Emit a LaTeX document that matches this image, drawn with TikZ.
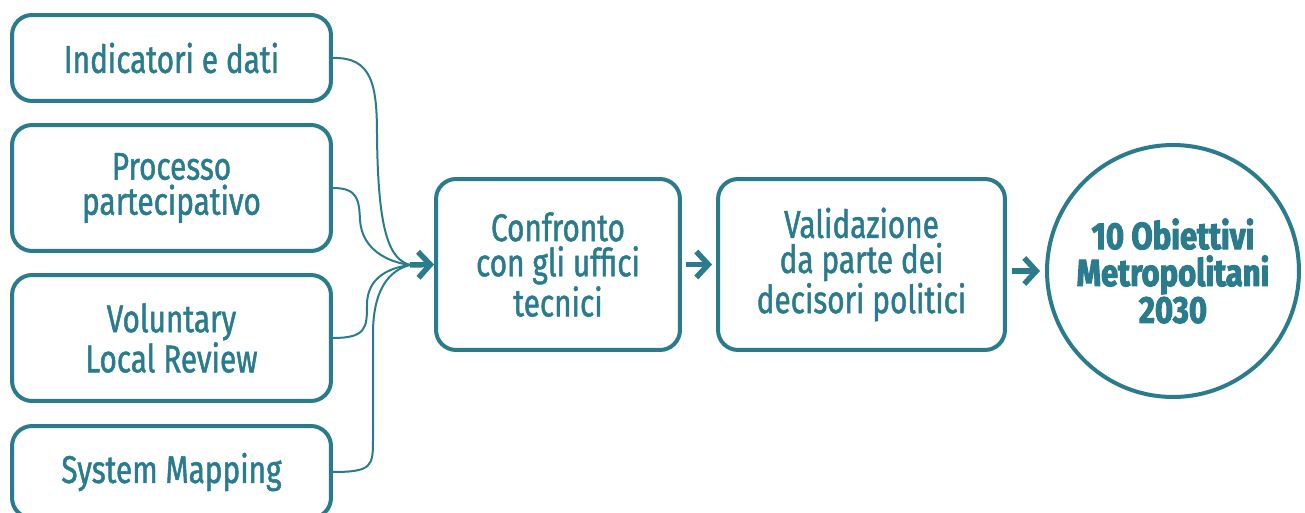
\documentclass[tikz,border=0pt]{standalone}
\usepackage{fontspec}
\setmainfont[FakeStretch=0.77,FakeBold=1.2]{Fira Sans}
\newfontfamily\goalfont[FakeStretch=0.82,BoldFeatures={FakeBold=2.6}]{Fira Sans}
\usetikzlibrary{arrows.meta, positioning}
\definecolor{myteal}{RGB}{42, 123, 140}
\tikzset{>={Straight Barb[length=0.24cm,width=0.52cm]}}
\tikzset{
  box/.style={draw=myteal, line width=0.08cm, rounded corners=0.4cm, text=myteal,
    align=center, font=\fontsize{22}{20}\selectfont},
  link/.style={draw=myteal, line width=0.04cm},
  flow/.style={->, draw=myteal, line width=0.11cm}
}

\begin{document}
\begin{tikzpicture}[x=0.02cm, y=-0.02cm]
\useasboundingbox (0,0) rectangle (1305,513);
% sources
\node[box, minimum width=6.38cm, minimum height=1.72cm] (ind) at (171.5,58) {Indicatori e dati};
\node[box, minimum width=6.38cm, minimum height=2.52cm] (proc) at (171.5,188) {Processo\\partecipativo};
\node[box, minimum width=6.38cm, minimum height=2.52cm] (vlr) at (171.5,338) {Voluntary\\Local Review};
\node[box, minimum width=6.38cm, minimum height=1.84cm] (sysm) at (171.5,472) {System Mapping};
% steps
\node[box, minimum width=4.88cm, minimum height=3.42cm] (conf) at (558,264.5) {Confronto\\con gli uffici\\tecnici};
\node[box, minimum width=5.74cm, minimum height=3.42cm] (val) at (861.5,264.5) {Validazione\\da parte dei\\decisori politici};
\node[draw=myteal, line width=0.08cm, circle, minimum size=5.04cm, text=myteal, align=center,
  font=\goalfont\bfseries\fontsize{21.5}{21}\selectfont] (goal) at (1173,271) {10 Obiettivi\\Metropolitani\\2030};
\coordinate (m) at (410,265);
% links
\draw[link] (ind.east) .. controls (372,57) and (377,85) .. (377,135) .. controls (378,235) and (390,259) .. (m);
\draw[link] (proc.east) .. controls (358,188) and (359,200) .. (360,220) .. controls (362,250) and (388,262) .. (m);
\draw[link] (vlr.east) .. controls (366,338) and (367,328) .. (367,305) .. controls (367,278) and (388,268) .. (m);
\draw[link] (sysm.east) .. controls (372,472) and (373,466) .. (373,440) -- (373,330) .. controls (374,288) and (390,270) .. (m);
\draw[flow] (m) -- (conf.west);
\draw[flow, shorten <=0.08cm, shorten >=0.08cm] (conf.east) -- (val.west);
\draw[flow, shorten <=0.1cm, shorten >=0.1cm] (val.east |- goal.west) -- (goal.west);
\end{tikzpicture}
\end{document}
